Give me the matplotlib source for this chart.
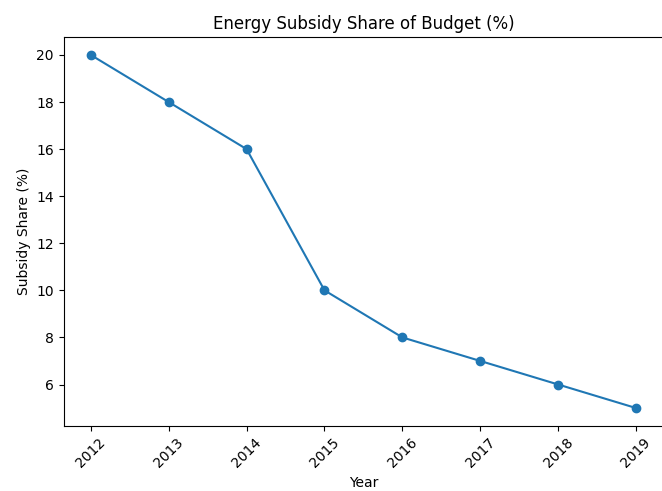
import matplotlib
matplotlib.use("Agg")
import matplotlib.pyplot as plt

years = [2012, 2013, 2014, 2015, 2016, 2017, 2018, 2019]
share = [20, 18, 16, 10, 8, 7, 6, 5]

fig, ax = plt.subplots(figsize=(6.62, 4.91), dpi=100)
ax.plot(years, share, marker='o', color='#1f77b4')
ax.set_title("Energy Subsidy Share of Budget (%)")
ax.set_xlabel("Year")
ax.set_ylabel("Subsidy Share (%)")
ax.set_xticks(years)
ax.set_xticklabels([str(y) for y in years], rotation=45)
fig.subplots_adjust(left=0.096, right=1.002, top=0.924, bottom=0.133)
fig.savefig("out.png")
